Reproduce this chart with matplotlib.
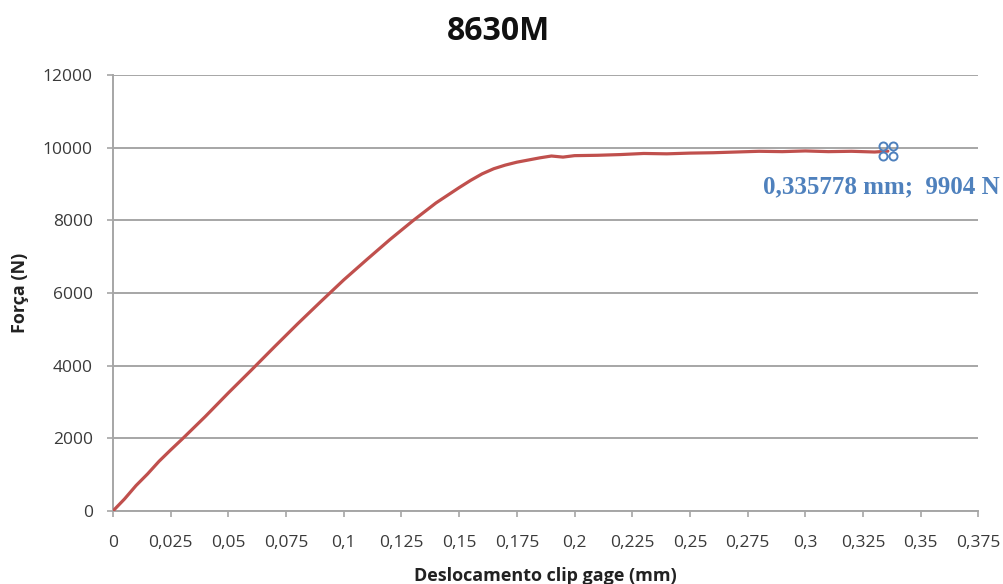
import matplotlib
matplotlib.use("Agg")
import matplotlib.pyplot as plt
from matplotlib.path import Path
import numpy as np

# Load-displacement curve for specimen 8630M
deslocamento = [0, 0.005, 0.01, 0.015, 0.02, 0.025, 0.03, 0.04, 0.05, 0.06, 0.07,
                0.08, 0.09, 0.1, 0.11, 0.12, 0.13, 0.14, 0.15, 0.155, 0.16, 0.165,
                0.17, 0.175, 0.18, 0.185, 0.19, 0.195, 0.2, 0.21, 0.22, 0.23, 0.24,
                0.25, 0.26, 0.27, 0.28, 0.29, 0.3, 0.31, 0.32, 0.33, 0.335778]
forca = [0, 330, 700, 1020, 1370, 1680, 1980, 2600, 3250, 3880, 4520,
         5150, 5760, 6360, 6920, 7470, 7990, 8480, 8900, 9100, 9280, 9420,
         9520, 9600, 9660, 9720, 9770, 9740, 9780, 9790, 9810, 9840, 9830,
         9850, 9860, 9880, 9900, 9890, 9910, 9890, 9900, 9880, 9904]

ponto_x = 0.335778
ponto_y = 9904

x_ticks = [0, 0.025, 0.05, 0.075, 0.1, 0.125, 0.15, 0.175, 0.2, 0.225, 0.25,
           0.275, 0.3, 0.325, 0.35, 0.375]
x_labels = ["0", "0,025", "0,05", "0,075", "0,1", "0,125", "0,15", "0,175", "0,2",
            "0,225", "0,25", "0,275", "0,3", "0,325", "0,35", "0,375"]
y_ticks = [0, 2000, 4000, 6000, 8000, 10000, 12000]

grid_c = "#a6a6a6"
red = "#c0504d"
blue = "#4f81bd"

fig = plt.figure(figsize=(10.04, 5.84), dpi=100)
ax = fig.add_axes([0.1125, 0.125, 0.862, 0.7466])

ax.plot(deslocamento, forca, color=red, lw=2.3, solid_capstyle="round", zorder=3)

# Selected-point marker: four small circles in a square
circ = Path.unit_circle()
verts, codes = [], []
for dx, dy in [(-1, -1), (1, -1), (-1, 1), (1, 1)]:
    verts.extend(circ.vertices * 0.8 + np.array([dx, dy]))
    codes.extend(circ.codes)
quad = Path(verts, codes)
ax.plot([ponto_x], [ponto_y], marker=quad, ms=13, mfc="none", mec=blue, mew=1.4,
        ls="none", zorder=4, clip_on=False)

ax.annotate("0,335778 mm;  9904 N", xy=(ponto_x, ponto_y), xytext=(-90, -26),
            textcoords="offset points", ha="left", va="center",
            fontsize=18, fontweight="bold", color=blue,
            family="Liberation Serif", annotation_clip=False)

ax.set_xlim(0, 0.375)
ax.set_ylim(0, 12000)
ax.set_xticks(x_ticks)
ax.set_xticklabels(x_labels)
ax.set_yticks(y_ticks)

ax.yaxis.grid(True, color=grid_c, lw=1.4)
ax.set_axisbelow(True)
for s in ["top", "right"]:
    ax.spines[s].set_visible(False)
for s in ["left", "bottom"]:
    ax.spines[s].set_color(grid_c)
    ax.spines[s].set_linewidth(1.4)
ax.tick_params(axis="both", colors=grid_c, width=1.2, length=4.5, direction="out")
ax.tick_params(axis="both", labelcolor="#3a3a3a", labelsize=12.5)
for lab in ax.get_xticklabels() + ax.get_yticklabels():
    lab.set_family("Open Sans")
ax.tick_params(axis="x", pad=13)
ax.tick_params(axis="y", pad=10)

ax.set_xlabel("Deslocamento clip gage (mm)", fontsize=13, fontweight="bold",
              family="Open Sans", color="#222222", labelpad=11)
ax.set_ylabel("Força (N)", fontsize=13, fontweight="bold",
              family="Open Sans", color="#222222", labelpad=10)

fig.suptitle("8630M", x=0.497, y=0.975, fontsize=23, fontweight="bold",
             family="Open Sans", color="#111111")

fig.savefig("out.png", dpi=100)
